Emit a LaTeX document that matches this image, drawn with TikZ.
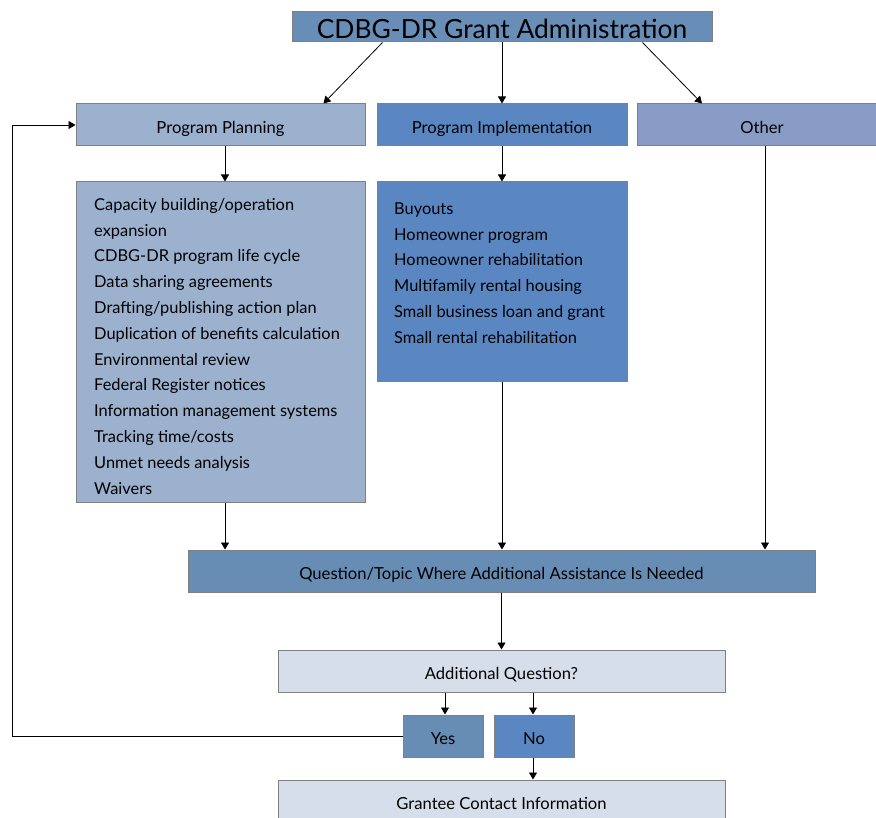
\documentclass[tikz,border=0pt]{standalone}
\usepackage{fontspec}
\setmainfont{Lato}
\usetikzlibrary{arrows.meta}
\definecolor{ctitle}{RGB}{104,142,183}
\definecolor{cpp}{RGB}{155,177,206}
\definecolor{cpi}{RGB}{90,135,194}
\definecolor{coth}{RGB}{137,156,198}
\definecolor{cq}{RGB}{103,141,181}
\definecolor{caq}{RGB}{214,222,234}
\definecolor{cedge}{RGB}{128,128,128}
\tikzset{
  box/.style={draw=cedge, line width=1pt, inner sep=0pt, text height=19pt, text depth=2pt, font=\fontsize{16.6}{19}\selectfont},
  item/.style={inner sep=0pt, anchor=west, text height=11pt, text depth=3.5pt, font=\fontsize{16.4}{19}\selectfont},
  arr/.style={-{Triangle[length=7pt,width=8pt]}, line width=0.8pt, black},
}
\begin{document}
\begin{tikzpicture}[x=1pt,y=-1pt]
\useasboundingbox (0,0) rectangle (876,818);
% boxes
\node[box, fill=ctitle, minimum width=420, minimum height=30, text height=25pt, text depth=1pt, font=\fontsize{26.4}{30}\selectfont] (title) at (502,27) {CDBG-DR Grant Administration};
\node[box, fill=cpp, minimum width=289, minimum height=42] (pp) at (220.5,125) {Program Planning};
\node[box, fill=cpi, minimum width=250, minimum height=42] (pi) at (502,125) {Program Implementation};
\node[box, fill=coth, minimum width=250, minimum height=42] (oth) at (762,125) {Other};
\node[box, fill=cpp, minimum width=289, minimum height=320] (pl) at (220.5,342) {};
\node[box, fill=cpi, minimum width=250, minimum height=200] (il) at (502,282) {};
\node[box, fill=cq, minimum width=627, minimum height=42] (q) at (501.5,571) {Question/Topic Where Additional Assistance Is Needed};
\node[box, fill=caq, minimum width=447, minimum height=42] (aq) at (501.5,671) {Additional Question?};
\node[box, fill=cq, minimum width=80, minimum height=42] (yes) at (443,736) {Yes};
\node[box, fill=cpi, minimum width=80, minimum height=42] (no) at (534,736) {No};
\node[box, fill=caq, minimum width=447, minimum height=42] (gc) at (501.5,801) {Grantee Contact Information};
% list items
\foreach \t [count=\i] in {Capacity building/operation, expansion, CDBG-DR program life cycle, Data sharing agreements, Drafting/publishing action plan, Duplication of benefits calculation, Environmental review, Federal Register notices, Information management systems, Tracking time/costs, Unmet needs analysis, Waivers}
  \node[item] (pl\i) at (94,{206.5+25.8*(\i-1)}) {\t};
\foreach \t [count=\i] in {Buyouts, Homeowner program, Homeowner rehabilitation, Multifamily rental housing, Small business loan and grant, Small rental rehabilitation}
  \node[item] (il\i) at (394,{210.5+25.8*(\i-1)}) {\t};
% connectors
\coordinate (t1) at ([xshift=91pt]title.south west);
\coordinate (p1) at ([xshift=-42pt]pp.north east);
\coordinate (t3) at ([xshift=-70pt]title.south east);
\coordinate (o1) at ([xshift=-60pt]oth.north);
\draw[arr] (t1) -- (p1);
\draw[arr] (title.south) -- (pi.north);
\draw[arr] (t3) -- (o1);
\draw[arr] ([xshift=4.5pt]pp.south) -- ([xshift=4.5pt]pl.north);
\draw[arr] (pi.south) -- (il.north);
\draw[arr] ([xshift=4.5pt]pl.south) -- ([xshift=4.5pt]pl.south |- q.north);
\draw[arr] (il.south) -- (il.south |- q.north);
\draw[arr] ([xshift=3pt]oth.south) -- ([xshift=3pt]oth.south |- q.north);
\draw[arr] (q.south) -- (aq.north);
\draw[arr] ([xshift=2pt]aq.south -| yes.north) -- ([xshift=2pt]yes.north);
\draw[arr] ([xshift=-1pt]aq.south -| no.north) -- ([xshift=-1pt]no.north);
\draw[arr] ([xshift=-1pt]no.south) -- ([xshift=-1pt]no.south |- gc.north);
\coordinate (lc) at (12,736);
\draw[arr] (yes.west) -- (lc) |- (pp.west);
\end{tikzpicture}
\end{document}
